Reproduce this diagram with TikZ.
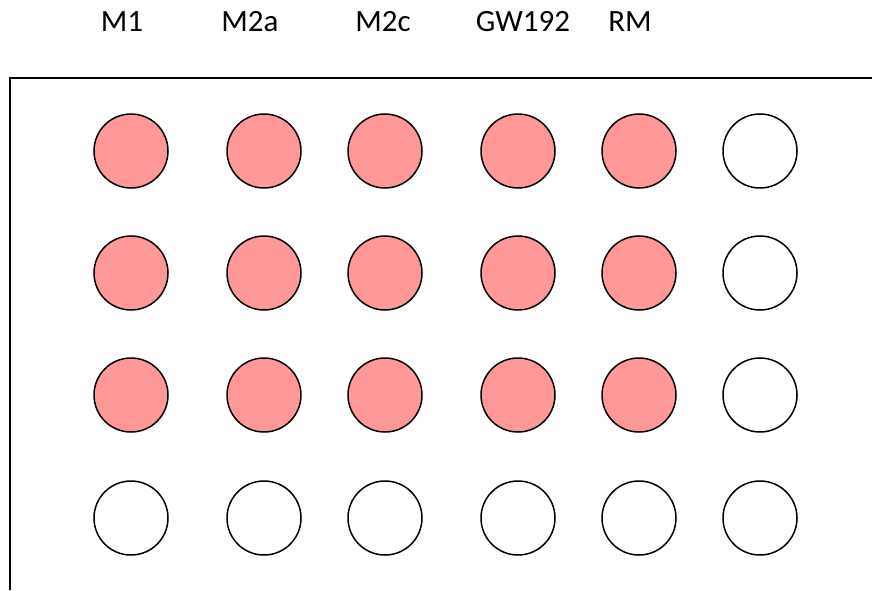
\documentclass[tikz,border=0pt]{standalone}
\usepackage{fontspec}
\setmainfont{Carlito}
\definecolor{wellpink}{RGB}{255,153,153}

\begin{document}
\begin{tikzpicture}[
  x=1pt,y=1pt,
  well/.style={circle,draw,line width=1.5pt,minimum size=74pt,inner sep=0pt},
  filled/.style={well,fill=wellpink},
  collabel/.style={anchor=base,font=\fontsize{31}{36}\selectfont}
]
\useasboundingbox (0,0) rectangle (872,590);
% plate outline
\draw[line width=2pt] (10,0) -- (10,512) -- (872,512);
% column labels
\node[collabel] (lab1) at (122,558) {M1};
\node[collabel] (lab2) at (250,558) {M2a};
\node[collabel] (lab3) at (383,558) {M2c};
\node[collabel] (lab4) at (523,558) {GW192};
\node[collabel] (lab5) at (630,558) {RM};
% wells
\foreach \r/\y in {1/439,2/317,3/195} {
  \foreach \c/\x in {1/131,2/264,3/385,4/518,5/639}
    \node[filled] (w\r\c) at (\x,\y) {};
  \node[well] (w\r6) at (760,\y) {};
}
\foreach \c/\x in {1/131,2/264,3/385,4/518,5/639,6/760}
  \node[well] (w4\c) at (\x,72) {};
\end{tikzpicture}
\end{document}
